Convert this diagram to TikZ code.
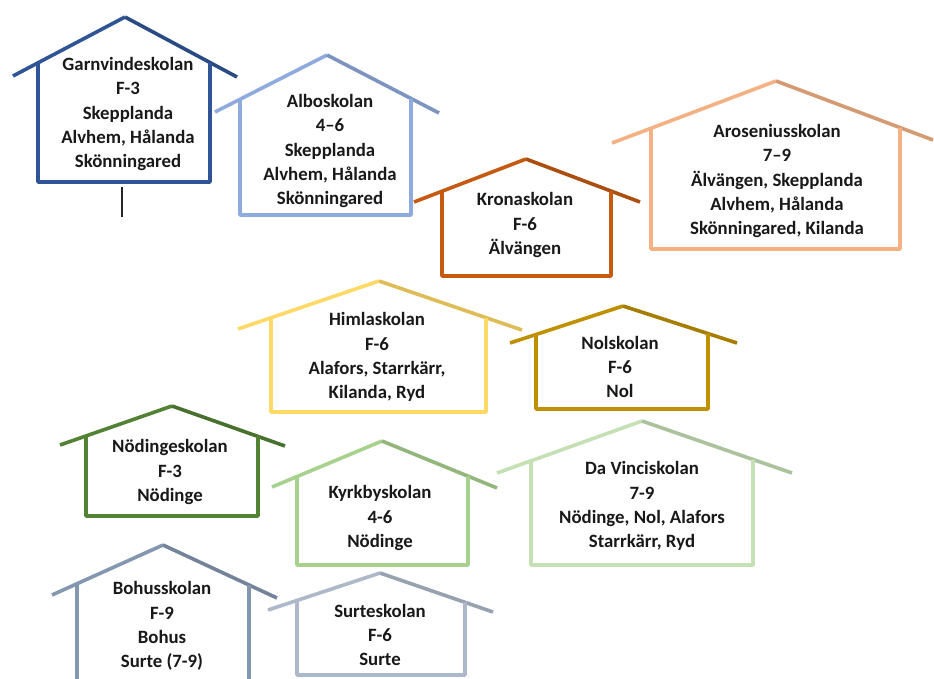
\documentclass[tikz,border=0pt]{standalone}
\usepackage{fontspec}
\setmainfont{Carlito}
\definecolor{cA}{HTML}{2F5597}
\definecolor{cB}{HTML}{8FAADC}
\definecolor{cC}{HTML}{C55A11}
\definecolor{cD}{HTML}{F4B183}
\definecolor{cE}{HTML}{FFD966}
\definecolor{cF}{HTML}{BF9000}
\definecolor{cG}{HTML}{548235}
\definecolor{cH}{HTML}{A9D18E}
\definecolor{cI}{HTML}{C5E0B4}
\definecolor{cJ}{HTML}{8497B0}
\definecolor{cK}{HTML}{ADB9CA}
\tikzset{
  houseline/.style={line width=3.6pt, line join=round},
  lbl/.style={align=center, inner sep=0pt, text=black!90,
    font=\fontsize{18.8}{24.2}\selectfont\bfseries},
}
% #1 name, #2 colour, #3 apex, #4 left roof end, #5 right roof end,
% #6 left wall x, #7 right wall x, #8 bottom y
\newcommand\drawhouse[8]{%
  \coordinate (#1a) at (#3);
  \coordinate (#1l) at (#4);
  \coordinate (#1r) at (#5);
  \draw[houseline, draw=#2] (#1l) -- (#1a);
  \draw[houseline, draw=#2!87!black] (#1a) -- (#1r);
  \draw[houseline, draw=#2]
    (intersection of #1l--#1a and #6,0--#6,1) -- (#6,#8) -- (#7,#8)
    -- (intersection of #1a--#1r and #7,0--#7,1);
}
\begin{document}
\begin{tikzpicture}[x=1pt,y=-1pt]
\clip (0,0) rectangle (934,678);
\fill[white] (0,0) rectangle (934,678);

\drawhouse{hA}{cA}{125,17}{13,76}{237,77}{38}{210}{182}
\drawhouse{hB}{cB}{327,55}{215,112}{439,113}{240}{411}{215}
\drawhouse{hC}{cC}{526,159}{414,202}{640,202}{442}{611}{276}
\drawhouse{hD}{cD}{776,81}{612,143}{933,140}{651}{900}{249}
\drawhouse{hE}{cE}{379,281}{238,329}{522,330}{271}{486}{412}
\drawhouse{hF}{cF}{623,306}{510,343}{737,343}{536}{708}{409}
\drawhouse{hG}{cG}{172,406}{60,445}{285,446}{86}{258}{516}
\drawhouse{hH}{cH}{382,441}{272,487}{497,488}{297}{468}{565}
\drawhouse{hI}{cI}{642,421}{497,473}{792,473}{531}{753}{565}
\drawhouse{hJ}{cJ}{163,545}{52,595}{277,598}{77}{249}{700}
\drawhouse{hK}{cK}{380,573}{268,610}{493,612}{297}{465}{675}

\coordinate (s1) at (122,187);
\coordinate (s2) at (122,217);
\draw[line width=1.3pt, black!85] (s1) -- (s2);

\node[lbl] (tA) at (128,114) {Garnvindeskolan\\F-3\\Skepplanda\\Alvhem, Hålanda\\Skönningared};
\node[lbl] (tB) at (330,151) {Alboskolan\\4–6\\Skepplanda\\Alvhem, Hålanda\\Skönningared};
\node[lbl] (tC) at (525,225) {Kronaskolan\\F-6\\Älvängen};
\node[lbl] (tD) at (777,181) {Aroseniusskolan\\7–9\\Älvängen, Skepplanda\\Alvhem, Hålanda\\Skönningared, Kilanda};
\node[lbl] (tE) at (377,357) {Himlaskolan\\F-6\\Alafors, Starrkärr,\\Kilanda, Ryd};
\node[lbl] (tF) at (620,367) {Nolskolan\\F-6\\Nol};
\node[lbl] (tG) at (170,472) {Nödingeskolan\\F-3\\Nödinge};
\node[lbl] (tH) at (380,518) {Kyrkbyskolan\\4-6\\Nödinge};
\node[lbl] (tI) at (642,506) {Da Vinciskolan\\7-9\\Nödinge, Nol, Alafors\\Starrkärr, Ryd};
\node[lbl] (tJ) at (162,626) {Bohusskolan\\F-9\\Bohus\\Surte (7-9)};
\node[lbl] (tK) at (380,635) {Surteskolan\\F-6\\Surte};
\end{tikzpicture}
\end{document}
